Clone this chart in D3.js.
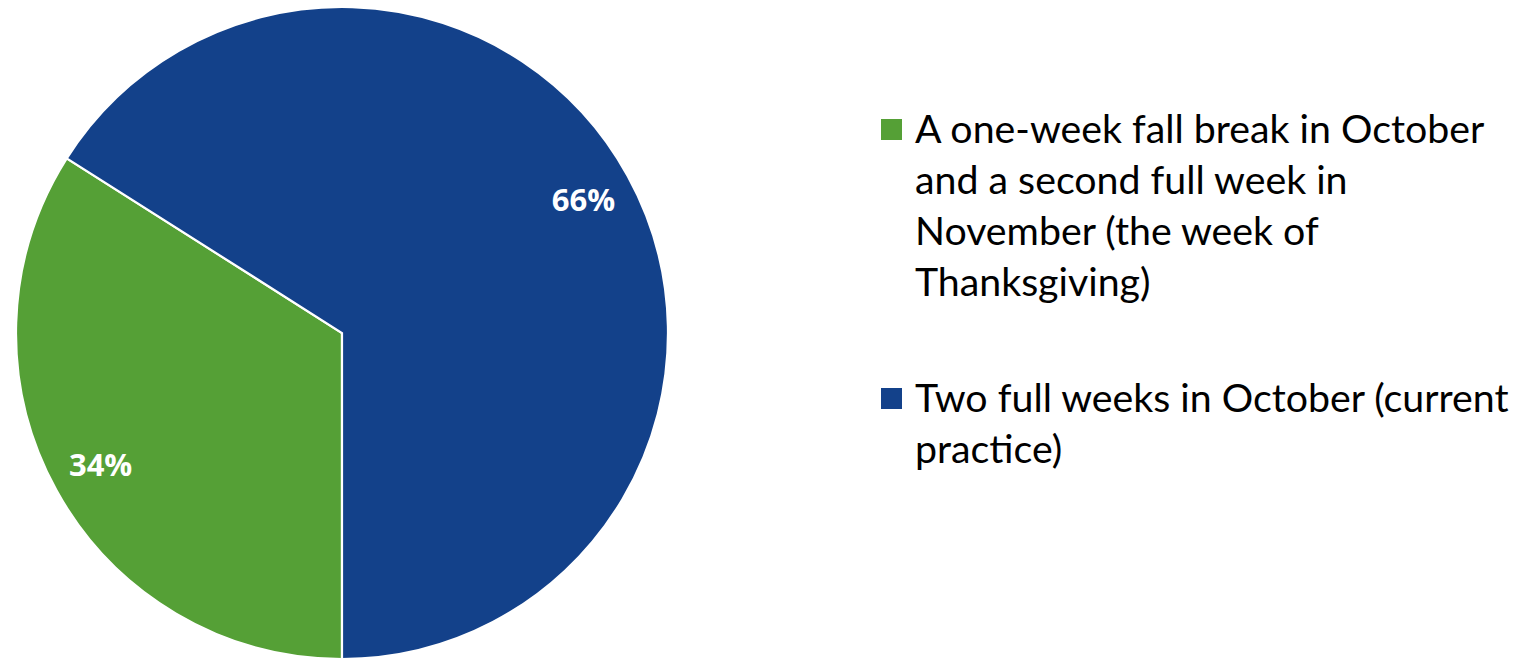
<!DOCTYPE html>
<html>
<head>
<meta charset="utf-8">
<script src="https://cdn.jsdelivr.net/npm/d3@7"></script>
<style>
  html, body { margin: 0; padding: 0; background: #fff; }
  svg { display: block; }
</style>
</head>
<body>
<svg id="chart" width="1526" height="658"></svg>
<script>
// Survey result: preferred fall break arrangement
const categories = [
  "A one-week fall break in October and a second full week in November (the week of Thanksgiving)",
  "Two full weeks in October (current practice)"
];
const shares = [34, 66];
const legendLines = [
  ["A one-week fall break in October", "and a second full week in", "November (the week of", "Thanksgiving)"],
  ["Two full weeks in October (current", "practice)"]
];
const colors = ["#55A036", "#13418A"];

const svg = d3.select("#chart");
const cx = 342, cy = 333, radius = 326;

const pie = d3.pie()
  .value(d => d.value)
  .sort(null)
  .startAngle(Math.PI)
  .endAngle(3 * Math.PI);

const data = categories.map((c, i) => ({ name: c, value: shares[i], color: colors[i] }));
const arcs = pie(data);

const arc = d3.arc().innerRadius(0).outerRadius(radius);
const labelArc = d3.arc().innerRadius(radius * 0.845).outerRadius(radius * 0.845);

const g = svg.append("g").attr("transform", `translate(${cx},${cy})`);

g.selectAll("path.slice")
  .data(arcs)
  .join("path")
  .attr("class", "slice")
  .attr("d", arc)
  .attr("fill", d => d.data.color)
  .attr("stroke", "#fff")
  .attr("stroke-width", 2.2)
  .attr("stroke-linejoin", "miter");

g.selectAll("text.pct")
  .data(arcs)
  .join("text")
  .attr("class", "pct")
  .attr("transform", d => `translate(${labelArc.centroid(d)})`)
  .attr("text-anchor", "middle")
  .attr("dy", "0.33em")
  .attr("fill", "#fff")
  .attr("font-family", "'Open Sans', sans-serif")
  .attr("font-weight", 700)
  .attr("font-size", 31)
  .text(d => d.data.value + "%");

// Legend
const legendFont = "Lato, 'Open Sans', sans-serif";
const legendSize = 39.3;
const lineGap = 51;
const legendStarts = [143, 412];
const legend = svg.append("g");

legendLines.forEach((lines, i) => {
  const item = legend.append("g");
  item.append("rect")
    .attr("x", 881)
    .attr("y", legendStarts[i] - 24)
    .attr("width", 21)
    .attr("height", 21)
    .attr("fill", colors[i]);
  const t = item.append("text")
    .attr("font-family", legendFont)
    .attr("font-size", legendSize)
    .attr("fill", "#000");
  lines.forEach((ln, j) => {
    t.append("tspan")
      .attr("x", 915)
      .attr("y", legendStarts[i] + j * lineGap)
      .text(ln);
  });
});
</script>
</body>
</html>
